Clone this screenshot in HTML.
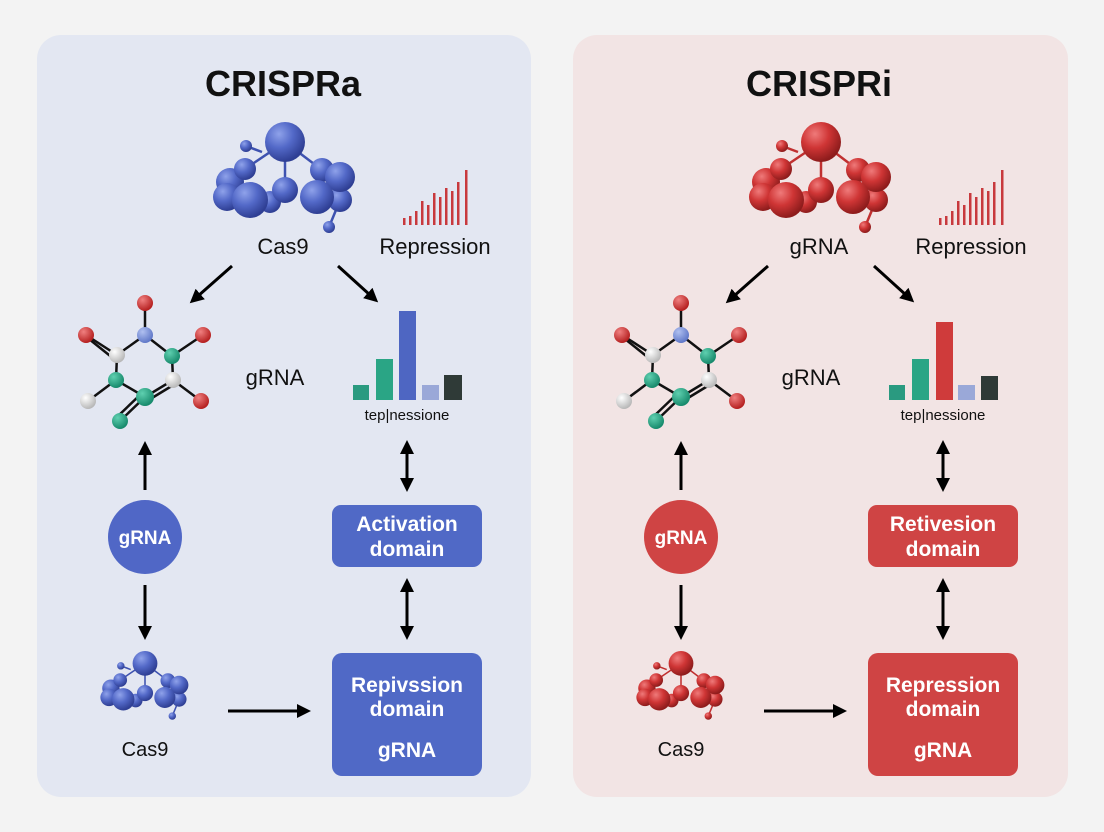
<!DOCTYPE html>
<html><head><meta charset="utf-8"><style>
html,body{margin:0;padding:0;background:#f3f3f3}
svg{display:block}
text{font-family:"Liberation Sans",sans-serif}
</style></head><body>
<svg width="1104" height="832" viewBox="0 0 1104 832" xmlns="http://www.w3.org/2000/svg">
<defs>
<radialGradient id="gb" cx="35%" cy="30%" r="70%"><stop offset="0" stop-color="#8fa2ea"/><stop offset="0.5" stop-color="#5369c8"/><stop offset="1" stop-color="#2f3f94"/></radialGradient>
<radialGradient id="gr" cx="35%" cy="30%" r="70%"><stop offset="0" stop-color="#ef7a7a"/><stop offset="0.5" stop-color="#cf3535"/><stop offset="1" stop-color="#8e1c1c"/></radialGradient>
<radialGradient id="gred" cx="35%" cy="30%" r="70%"><stop offset="0" stop-color="#f08080"/><stop offset="1" stop-color="#b52020"/></radialGradient>
<radialGradient id="ggr" cx="35%" cy="30%" r="70%"><stop offset="0" stop-color="#5fd0b0"/><stop offset="1" stop-color="#178a6c"/></radialGradient>
<radialGradient id="gw" cx="35%" cy="30%" r="70%"><stop offset="0" stop-color="#ffffff"/><stop offset="1" stop-color="#b8b8b8"/></radialGradient>
<radialGradient id="gn" cx="35%" cy="30%" r="70%"><stop offset="0" stop-color="#b0c0f0"/><stop offset="1" stop-color="#6078c8"/></radialGradient>
<marker id="ah" markerWidth="14" markerHeight="14" refX="3" refY="7" orient="auto" markerUnits="userSpaceOnUse" viewBox="0 0 14 14"><path d="M0,0 L14,7 L0,14 z" fill="#000"/></marker>
<g id="cl">
<g stroke="currentColor" stroke-width="2.5"><line x1="285" y1="142" x2="245" y2="169"/><line x1="285" y1="142" x2="322" y2="170"/><line x1="285" y1="142" x2="285" y2="190"/><line x1="246" y1="146" x2="262" y2="152"/><line x1="329" y1="227" x2="336" y2="210"/></g>
<circle cx="246" cy="146" r="6"/><circle cx="230" cy="182" r="14"/><circle cx="245" cy="169" r="11"/><circle cx="227" cy="197" r="14"/><circle cx="270" cy="202" r="11"/><circle cx="250" cy="200" r="18"/><circle cx="285" cy="190" r="13"/><circle cx="340" cy="200" r="12"/><circle cx="322" cy="170" r="12"/><circle cx="340" cy="177" r="15"/><circle cx="317" cy="197" r="17"/><circle cx="329" cy="227" r="6"/><circle cx="285" cy="142" r="20"/>
</g>
<g id="mol">
<g stroke="#111" stroke-width="2.5"><line x1="145" y1="303" x2="145" y2="335"/><line x1="145" y1="335" x2="117" y2="355"/><line x1="145" y1="335" x2="172" y2="356"/><line x1="86" y1="335" x2="117" y2="355"/><line x1="89" y1="339" x2="114" y2="359"/><line x1="172" y1="356" x2="203" y2="335"/><line x1="117" y1="355" x2="116" y2="380"/><line x1="172" y1="356" x2="173" y2="380"/><line x1="116" y1="380" x2="88" y2="401"/><line x1="116" y1="380" x2="145" y2="397"/><line x1="145" y1="397" x2="173" y2="380"/><line x1="147" y1="401" x2="175" y2="384"/><line x1="173" y1="380" x2="201" y2="401"/><line x1="145" y1="397" x2="120" y2="421"/><line x1="141" y1="394" x2="117" y2="417"/></g>
<circle cx="145" cy="303" r="8" fill="url(#gred)"/><circle cx="86" cy="335" r="8" fill="url(#gred)"/><circle cx="203" cy="335" r="8" fill="url(#gred)"/><circle cx="201" cy="401" r="8" fill="url(#gred)"/>
<circle cx="145" cy="335" r="8" fill="url(#gn)"/><circle cx="117" cy="355" r="8" fill="url(#gw)"/><circle cx="173" cy="380" r="8" fill="url(#gw)"/><circle cx="88" cy="401" r="8" fill="url(#gw)"/>
<circle cx="172" cy="356" r="8" fill="url(#ggr)"/><circle cx="116" cy="380" r="8" fill="url(#ggr)"/><circle cx="145" cy="397" r="9" fill="url(#ggr)"/><circle cx="120" cy="421" r="8" fill="url(#ggr)"/>
</g>
<g id="spark" fill="#c8393d">
<rect x="403" y="218" width="2.5" height="7"/><rect x="409" y="216" width="2.5" height="9"/><rect x="415" y="211" width="2.5" height="14"/><rect x="421" y="201" width="2.5" height="24"/><rect x="427" y="205" width="2.5" height="20"/><rect x="433" y="193" width="2.5" height="32"/><rect x="439" y="197" width="2.5" height="28"/><rect x="445" y="188" width="2.5" height="37"/><rect x="451" y="191" width="2.5" height="34"/><rect x="457" y="182" width="2.5" height="43"/><rect x="465" y="170" width="2.5" height="55"/>
</g>
<g id="arrows" stroke="#000" stroke-width="3" fill="none">
<line x1="232" y1="266" x2="198" y2="296" marker-end="url(#ah)"/>
<line x1="338" y1="266" x2="370" y2="295" marker-end="url(#ah)"/>
<line x1="145" y1="490" x2="145" y2="452" marker-end="url(#ah)"/>
<line x1="145" y1="585" x2="145" y2="629" marker-end="url(#ah)"/>
<line x1="407" y1="465" x2="407" y2="451" marker-end="url(#ah)"/><line x1="407" y1="465" x2="407" y2="481" marker-end="url(#ah)"/>
<line x1="407" y1="608" x2="407" y2="589" marker-end="url(#ah)"/><line x1="407" y1="608" x2="407" y2="629" marker-end="url(#ah)"/>
<line x1="228" y1="711" x2="300" y2="711" marker-end="url(#ah)"/>
</g>
</defs>

<rect x="37" y="35" width="494" height="762" rx="24" fill="#e3e7f2"/>
<rect x="573" y="35" width="495" height="762" rx="24" fill="#f2e4e4"/>

<!-- LEFT -->
<text x="283" y="96" font-size="36" text-anchor="middle" fill="#111" font-weight="bold">CRISPRa</text>
<g fill="url(#gb)" color="#3e52b0"><use href="#cl"/></g>
<text x="283" y="254" font-size="22" text-anchor="middle" fill="#111">Cas9</text>
<use href="#spark"/>
<text x="435" y="254" font-size="22" text-anchor="middle" fill="#111">Repression</text>
<use href="#arrows"/>
<use href="#mol"/>
<text x="275" y="385" font-size="22" text-anchor="middle" fill="#111">gRNA</text>
<rect x="353" y="385" width="16" height="15" fill="#2a9a80"/><rect x="376" y="359" width="17" height="41" fill="#2aa585"/><rect x="399" y="311" width="17" height="89" fill="#4e66c2"/><rect x="422" y="385" width="17" height="15" fill="#9aa8d8"/><rect x="444" y="375" width="18" height="25" fill="#2f3a37"/>
<text x="407" y="420" font-size="15" text-anchor="middle" fill="#111">tep|nessione</text>
<circle cx="145" cy="537" r="37" fill="#5067c6"/>
<text x="145" y="544" font-size="19" text-anchor="middle" fill="#fff" font-weight="bold">gRNA</text>
<g fill="url(#gb)" color="#3e52b0" transform="translate(145,690) scale(0.62) translate(-285,-185)"><use href="#cl"/></g>
<text x="145" y="756" font-size="20" text-anchor="middle" fill="#111">Cas9</text>
<rect x="332" y="505" width="150" height="62" rx="9" fill="#5069c6"/>
<text x="407" y="531" font-size="21" text-anchor="middle" fill="#fff" font-weight="bold">Activation</text>
<text x="407" y="556" font-size="21" text-anchor="middle" fill="#fff" font-weight="bold">domain</text>
<rect x="332" y="653" width="150" height="123" rx="10" fill="#5069c6"/>
<text x="407" y="692" font-size="21" text-anchor="middle" fill="#fff" font-weight="bold">Repivssion</text>
<text x="407" y="716" font-size="21" text-anchor="middle" fill="#fff" font-weight="bold">domain</text>
<text x="407" y="757" font-size="21" text-anchor="middle" fill="#fff" font-weight="bold">gRNA</text>

<!-- RIGHT -->
<g transform="translate(536,0)">
<text x="283" y="96" font-size="36" text-anchor="middle" fill="#111" font-weight="bold">CRISPRi</text>
<g fill="url(#gr)" color="#c03030"><use href="#cl"/></g>
<text x="283" y="254" font-size="22" text-anchor="middle" fill="#111">gRNA</text>
<use href="#spark"/>
<text x="435" y="254" font-size="22" text-anchor="middle" fill="#111">Repression</text>
<use href="#arrows"/>
<use href="#mol"/>
<text x="275" y="385" font-size="22" text-anchor="middle" fill="#111">gRNA</text>
<rect x="353" y="385" width="16" height="15" fill="#2a9a80"/><rect x="376" y="359" width="17" height="41" fill="#2aa585"/><rect x="400" y="322" width="17" height="78" fill="#cf3b3b"/><rect x="422" y="385" width="17" height="15" fill="#9aa8d8"/><rect x="445" y="376" width="17" height="24" fill="#2f3a37"/>
<text x="407" y="420" font-size="15" text-anchor="middle" fill="#111">tep|nessione</text>
<circle cx="145" cy="537" r="37" fill="#cf4444"/>
<text x="145" y="544" font-size="19" text-anchor="middle" fill="#fff" font-weight="bold">gRNA</text>
<g fill="url(#gr)" color="#c03030" transform="translate(145,690) scale(0.62) translate(-285,-185)"><use href="#cl"/></g>
<text x="145" y="756" font-size="20" text-anchor="middle" fill="#111">Cas9</text>
<rect x="332" y="505" width="150" height="62" rx="9" fill="#cf4444"/>
<text x="407" y="531" font-size="21" text-anchor="middle" fill="#fff" font-weight="bold">Retivesion</text>
<text x="407" y="556" font-size="21" text-anchor="middle" fill="#fff" font-weight="bold">domain</text>
<rect x="332" y="653" width="150" height="123" rx="10" fill="#cf4444"/>
<text x="407" y="692" font-size="21" text-anchor="middle" fill="#fff" font-weight="bold">Repression</text>
<text x="407" y="716" font-size="21" text-anchor="middle" fill="#fff" font-weight="bold">domain</text>
<text x="407" y="757" font-size="21" text-anchor="middle" fill="#fff" font-weight="bold">gRNA</text>
</g>
</svg>
</body></html>
